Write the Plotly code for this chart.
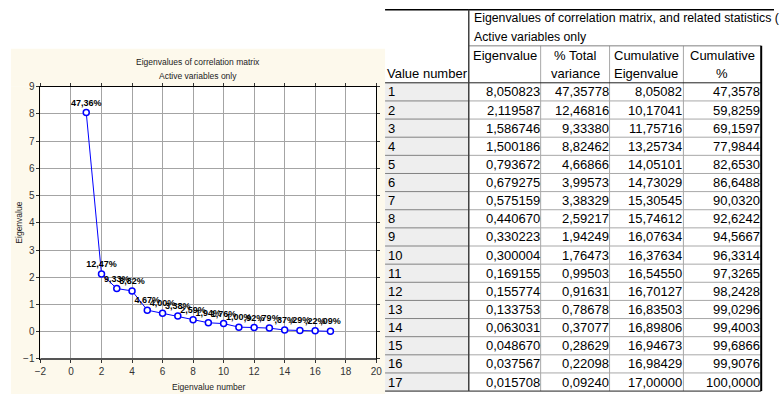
import plotly.graph_objects as go

# Figure size in pixels
W, H = 780, 400

# ---- data: principal component eigenvalues (17 active variables) ----
component = list(range(1, 18))
eigenvalues = [8.050823, 2.119587, 1.586746, 1.500186, 0.793672, 0.679275,
               0.575159, 0.440670, 0.330223, 0.300004, 0.169155, 0.155774,
               0.133753, 0.063031, 0.048670, 0.037567, 0.015708]
pct_total = [47.35778, 12.46816, 9.33380, 8.82462, 4.66866, 3.99573,
             3.38329, 2.59217, 1.94249, 1.76473, 0.99503, 0.91631,
             0.78678, 0.37077, 0.28629, 0.22098, 0.09240]
cum_eigen = [8.05082, 10.17041, 11.75716, 13.25734, 14.05101, 14.73029,
             15.30545, 15.74612, 16.07634, 16.37634, 16.54550, 16.70127,
             16.83503, 16.89806, 16.94673, 16.98429, 17.00000]
cum_pct = [47.3578, 59.8259, 69.1597, 77.9844, 82.6530, 86.6488,
           90.0320, 92.6242, 94.5667, 96.3314, 97.3265, 98.2428,
           99.0296, 99.4003, 99.6866, 99.9076, 100.0000]

chart_title = ["Eigenvalues of correlation matrix", "Active variables only"]
table_title = ["Eigenvalues of correlation matrix, and related statistics (",
               "Active variables only"]
col_headers = [["Eigenvalue", ""], ["% Total", "variance"],
               ["Cumulative", "Eigenvalue"], ["Cumulative", "%"]]
row_header = "Value number"
decimals = [6, 5, 5, 4]


def fmt(v, nd):
    return f"{v:.{nd}f}".replace(".", ",")


def pct_label(v):
    s = fmt(v, 2)
    if s.startswith("0,"):
        s = s[1:]
    return s + "%"


def px(x):
    return x / W


def py(y):
    return 1 - y / H


SANS = "Liberation Sans, Arial, sans-serif"
CREAM = "#fdf9ec"

fig = go.Figure()

# ---- scree plot ----
fig.add_trace(go.Scatter(
    x=component, y=eigenvalues,
    mode="lines+markers+text",
    text=[pct_label(v) for v in pct_total],
    textposition="top center",
    textfont=dict(family=SANS, size=9, color="#000000", weight="bold"),
    line=dict(color="#0000ff", width=1),
    marker=dict(symbol="circle", size=6, color="white",
                line=dict(color="#0000ff", width=1.5)),
    cliponaxis=False,
    showlegend=False,
))

plot_l, plot_r, plot_t, plot_b = 35, 376, 84, 364
axis_style = dict(
    showgrid=True, gridcolor="#a4a4a4", gridwidth=1, zeroline=False,
    showline=True, linecolor="black", linewidth=1, mirror="ticks",
    ticks="outside", ticklen=3, tickcolor="#333333",
    tickfont=dict(family=SANS, size=10, color="#333333"),
)
fig.update_xaxes(domain=[px(plot_l), px(plot_r)], range=[-2, 20], dtick=2,
                 tick0=0, **axis_style)
fig.update_yaxes(domain=[py(plot_b), py(plot_t)], range=[-1, 9], dtick=1,
                 **axis_style)

shapes = []
annotations = []

# cream panel around the plotting area
panel_l, panel_r, panel_t, panel_b = 5, 385, 45, 400
for x0, x1, y0, y1 in [(panel_l, panel_r, panel_t, plot_t),
                       (panel_l, panel_r, plot_b, panel_b),
                       (panel_l, plot_l, plot_t, plot_b),
                       (plot_r, panel_r, plot_t, plot_b)]:
    shapes.append(dict(type="rect", xref="paper", yref="paper",
                       x0=px(x0), x1=px(x1), y0=py(y1), y1=py(y0),
                       fillcolor=CREAM, line=dict(width=0), layer="below"))
# heavier bottom frame of the plot
shapes.append(dict(type="line", xref="x domain", yref="y domain",
                   x0=0, x1=1, y0=0, y1=0,
                   line=dict(color="#555555", width=2)))

# chart titles
title_font = dict(family=SANS, size=8.5, color="#222222")
for i, t in enumerate(chart_title):
    annotations.append(dict(text=t, x=px((panel_l + panel_r) / 2), y=py(59 + 14 * i),
                            xref="paper", yref="paper", showarrow=False,
                            xanchor="center", yanchor="middle", font=title_font))
annotations.append(dict(text="Eigenvalue number", x=px((plot_l + plot_r) / 2),
                        y=py(393), xref="paper", yref="paper", showarrow=False,
                        xanchor="center", yanchor="middle", font=title_font))
annotations.append(dict(text="Eigenvalue", x=px(13), y=py((plot_t + plot_b) / 2),
                        xref="paper", yref="paper", showarrow=False, textangle=-90,
                        xanchor="center", yanchor="middle", font=title_font))

# ---- statistics table ----
col_edges = [385, 470, 543, 613, 688, 767]
top_y, hdr_split, sub_top, data_top = 5, 23, 42, 80
row_h = (397 - data_top) / len(component)
data_bot = data_top + row_h * len(component)
tfont = dict(family=SANS, size=13, color="black")


def hline(y, x0, x1, color, width=1):
    shapes.append(dict(type="line", xref="paper", yref="paper",
                       x0=px(x0), x1=px(x1), y0=py(y), y1=py(y),
                       line=dict(color=color, width=width)))


def vline(x, y0, y1, color, width=1):
    shapes.append(dict(type="line", xref="paper", yref="paper",
                       x0=px(x), x1=px(x), y0=py(y0), y1=py(y1),
                       line=dict(color=color, width=width)))


# shaded row-number column
shapes.append(dict(type="rect", xref="paper", yref="paper",
                   x0=px(col_edges[0]), x1=px(col_edges[1]),
                   y0=py(data_bot), y1=py(data_top),
                   fillcolor="#eeeeee", line=dict(width=0), layer="below"))

for i in range(1, len(component)):
    y = data_top + i * row_h
    hline(y, col_edges[0], col_edges[1], "#808080")
    hline(y, col_edges[1], col_edges[-1], "#a8a8a8")
for x in col_edges[2:-1]:
    vline(x, sub_top, data_bot, "#a8a8a8")
hline(sub_top, col_edges[1], col_edges[-1], "#808080")
hline(data_top, col_edges[0], col_edges[-1], "#202020")
hline(data_bot, col_edges[0], col_edges[-1], "#202020")
hline(top_y, col_edges[0], W, "black", 1.5)
vline(col_edges[1], top_y, data_bot, "#404040", 1.5)
vline(col_edges[-1], sub_top, data_bot, "black", 2)


def cell_text(text, x, y, anchor, size=13):
    annotations.append(dict(text=text, x=px(x), y=py(y), xref="paper", yref="paper",
                            showarrow=False, xanchor=anchor, yanchor="middle",
                            font=dict(tfont, size=size)))


# table headers
for i, t in enumerate(table_title):
    cell_text(t, col_edges[1] + 3, (top_y + hdr_split) / 2 + 19 * i - 0.5, "left",
              size=12.3)
for c, lines in enumerate(col_headers):
    cx = (col_edges[c + 1] + col_edges[c + 2]) / 2
    for j, t in enumerate(lines):
        if t:
            cell_text(t, cx, sub_top + 9.5 + 19 * j, "center")
cell_text(row_header, col_edges[0], data_top - 9.5, "left")

# table body
columns = [eigenvalues, pct_total, cum_eigen, cum_pct]
for r, n in enumerate(component):
    yc = data_top + (r + 0.5) * row_h
    cell_text(str(n), col_edges[0] + 1, yc, "left")
    for c, vals in enumerate(columns):
        cell_text(fmt(vals[r], decimals[c]), col_edges[c + 2] + 1, yc, "right")

fig.update_layout(
    width=W, height=H, margin=dict(l=0, r=0, t=0, b=0),
    paper_bgcolor="white", plot_bgcolor="white",
    shapes=shapes, annotations=annotations, showlegend=False,
)

fig.write_html("out.html")
